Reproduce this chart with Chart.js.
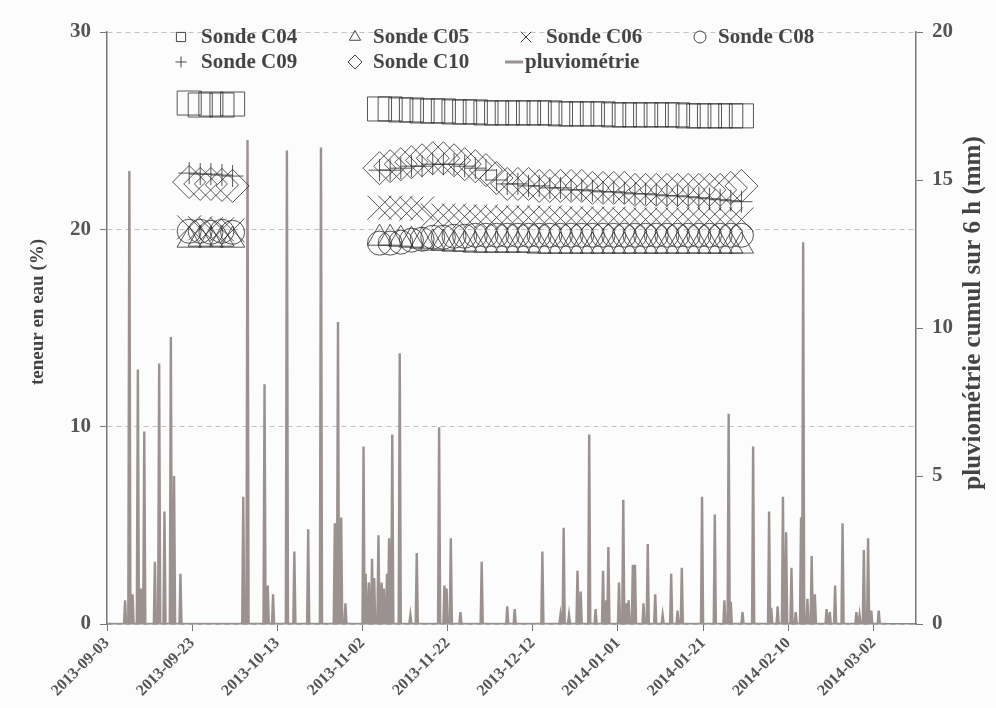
<!DOCTYPE html>
<html>
<head>
<meta charset="utf-8">
<script src="https://cdn.jsdelivr.net/npm/chart.js@4.4.1/dist/chart.umd.min.js"></script>
<style>
html,body{margin:0;padding:0;background:#fcfcfd;}
#wrap{width:996px;height:708px;position:relative;}
</style>
</head>
<body>
<div id="wrap"><canvas id="c"></canvas></div>
<script>
// ---------- data ----------
const startDate = '2013-09-03';            // x = 0 (days since this date)
const xTickStepDays = 20;
const leftAxisTitle = 'teneur en eau (%)';
const rightAxisTitle = 'pluviométrie cumul sur 6 h (mm)';

// rainfall (6 h cumulative, mm) : non-zero 6 h steps, day offsets since startDate
const rainDays = [4.25, 5.25, 6.0, 7.25, 8.0, 8.75, 11.25, 12.25, 13.5, 15.0, 15.75, 17.25,
  32.0, 33.0, 37.0, 37.75, 39.0, 42.25, 44.0, 47.25, 50.25, 53.5, 54.25, 55.0, 56.0,
  60.25, 60.75, 61.5, 62.25, 62.75, 63.75, 64.5, 65.0, 65.75, 66.25, 67.0, 68.75, 71.25, 72.75,
  78.0, 79.25, 79.75, 80.75, 83.0, 88.0,
  94.0, 95.75, 102.25, 106.5, 107.25, 108.5, 110.5, 111.25, 113.25, 114.75, 116.5, 117.25, 117.75,
  120.25, 121.25, 122.0, 122.5, 123.5, 124.0, 126.0, 127.0, 128.75, 130.5, 132.5, 134.0, 135.0,
  139.75, 142.75, 145.0, 146.0, 146.5, 149.25, 151.75, 155.5, 156.0, 157.5, 158.75, 159.5, 160.75, 161.75,
  163.0, 163.5, 164.5, 165.5, 166.25, 169.0, 169.75, 171.0, 172.75, 176.0, 176.75, 177.75, 178.75, 179.5, 181.25];
const rainMm = [0.8, 15.3, 1.0, 8.6, 1.2, 6.5, 2.1, 8.8, 3.8, 9.7, 5.0, 1.7,
  4.3, 16.35, 8.1, 1.3, 1.0, 16.0, 2.45, 3.2, 16.1, 3.4, 10.2, 3.6, 0.7,
  6.0, 1.7, 1.4, 2.2, 1.55, 3.0, 1.4, 1.2, 1.7, 2.9, 6.4, 9.15, 0.3, 2.4,
  6.65, 1.3, 1.2, 2.9, 0.4, 2.1,
  0.6, 0.5, 2.45, 0.3, 3.25, 0.3, 1.8, 1.1, 6.4, 0.5, 1.8, 0.8, 2.6,
  1.4, 4.2, 0.7, 0.8, 2.0, 2.0, 0.7, 2.7, 1.0, 0.3, 1.7, 0.45, 1.9,
  4.3, 3.7, 0.8, 7.1, 0.75, 0.4, 6.0, 3.8, 0.55, 0.6, 4.3, 3.1, 1.9, 0.4,
  3.6, 12.9, 0.85, 2.3, 1.0, 0.5, 0.4, 1.3, 3.4, 0.4, 0.3, 2.5, 2.9, 0.45, 0.45];
const rainLastDay = 183;

// soil probes (water content, %) : measurement days since startDate
const soilDays = [19.3, 21.9, 24.4, 27.0, 29.5,
  64, 66.5, 69, 71.5, 74, 76.5, 79, 81.5, 84, 86.5, 89, 91.5, 94, 96.5, 99, 101.5, 104, 106.5,
  109, 111.5, 114, 116.5, 119, 121.5, 124, 126.5, 129, 131.5, 134, 136.5, 139, 141.5, 144, 146.5, 149];
const sondeC04 = [26.4, 26.3, 26.35, 26.3, 26.35,
  26.1, 26.1, 26.05, 26.05, 26.0, 26.0, 26.0, 25.95, 25.95, 25.95, 25.9, 25.9, 25.9, 25.9, 25.9, 25.9, 25.9,
  25.85, 25.85, 25.85, 25.85, 25.85, 25.8, 25.8, 25.8, 25.8, 25.8, 25.8, 25.8, 25.75, 25.75, 25.75, 25.75, 25.75, 25.75];
const sondeC05 = [19.45, 19.5, 19.45, 19.5, 19.45,
  19.55, 19.55, 19.5, 19.45, 19.4, 19.3, 19.3, 19.25, 19.25, 19.2, 19.2, 19.2, 19.2, 19.2, 19.2,
  19.15, 19.15, 19.15, 19.15, 19.15, 19.15, 19.15, 19.15, 19.15, 19.15, 19.15, 19.15, 19.15, 19.15, 19.15,
  19.15, 19.15, 19.15, 19.15, 19.15];
const sondeC06 = [20.1, 20.05, 20.0, 20.0, 19.95,
  21.1, 21.1, 21.1, 21.05, 21.05, 20.7, 20.7, 20.7, 20.65, 20.65, 20.65, 20.6, 20.6, 20.6, 20.6, 20.6, 20.6,
  20.55, 20.55, 20.55, 20.55, 20.55, 20.55, 20.5, 20.5, 20.5, 20.5, 20.5, 20.5, 20.5, 20.5, 20.5, 20.5, 20.5, 20.5];
const sondeC08 = [19.9, 19.9, 19.85, 19.9, 19.85,
  19.3, 19.3, 19.35, 19.45, 19.5, 19.6, 19.6, 19.65, 19.65, 19.7, 19.7, 19.7, 19.7, 19.7, 19.7,
  19.7, 19.7, 19.7, 19.7, 19.7, 19.7, 19.7, 19.7, 19.7, 19.7, 19.7, 19.7, 19.7, 19.7, 19.7,
  19.7, 19.7, 19.7, 19.7, 19.7];
const sondeC09 = [22.85, 22.8, 22.8, 22.75, 22.7,
  23.0, 23.0, 23.1, 23.2, 23.2, 23.3, 23.3, 23.3, 23.2, 23.1, 23.0, 22.5, 22.3, 22.3, 22.2, 22.2, 22.1,
  22.1, 22.0, 22.0, 21.95, 21.9, 21.9, 21.85, 21.8, 21.8, 21.75, 21.7, 21.7, 21.65, 21.6, 21.55, 21.5, 21.45, 21.4];
const sondeC10 = [22.4, 22.3, 22.3, 22.25, 22.2,
  23.1, 23.2, 23.3, 23.4, 23.5, 23.6, 23.6, 23.5, 23.3, 23.2, 23.0, 22.6, 22.3, 22.3, 22.3, 22.2, 22.2,
  22.2, 22.2, 22.2, 22.1, 22.1, 22.1, 22.1, 22.0, 22.0, 22.0, 22.0, 22.0, 22.0, 22.0, 22.0, 22.0, 22.1, 22.2];

// ---------- build ----------
const day0 = Date.parse(startDate + 'T00:00:00Z');
const fmtDay = v => new Date(day0 + v * 86400000).toISOString().slice(0, 10);

const rainMap = new Map(rainDays.map((d, i) => [Math.round(d * 4), rainMm[i]]));
const rainPoints = [];
for (let k = 0; k <= rainLastDay * 4; k++) rainPoints.push({x: k / 4, y: rainMap.get(k) || 0});

const pts = arr => soilDays.map((d, i) => ({x: d, y: arr[i]}));
const MARK = 'rgba(45,45,45,0.8)';
const serif = '"Liberation Serif", "Times New Roman", serif';

function soil(label, arr, style, r, legR) {
  return {label, data: pts(arr), yAxisID: 'y', showLine: false, pointStyle: style,
    pointRadius: r, pointHoverRadius: r, pointBorderWidth: 1, pointBorderColor: MARK,
    pointBackgroundColor: 'rgba(0,0,0,0)', borderColor: MARK, backgroundColor: 'rgba(0,0,0,0)', legR};
}

const datasets = [
  soil('Sonde C04', sondeC04, 'rect', 17, 6.5),
  soil('Sonde C05', sondeC05, 'triangle', 14, 6.5),
  soil('Sonde C06', sondeC06, 'crossRot', 17, 7.5),
  soil('Sonde C08', sondeC08, 'circle', 12, 6),
  soil('Sonde C09', sondeC09, 'cross', 11, 5.5),
  soil('Sonde C10', sondeC10, 'rectRot', 16.5, 7),
  {label: 'pluviométrie', data: rainPoints, yAxisID: 'y1', borderColor: '#9b918e', borderWidth: 2.4,
   pointRadius: 0, tension: 0, fill: false}
];

const overlay = {
  id: 'overlay',
  afterDraw(chart) {
    const ctx = chart.ctx;
    ctx.save();
    // legend
    const slots = [[181, 37, 201], [355, 37, 373], [526, 37, 546], [700, 37, 718],
                   [181, 62, 201], [355, 62, 373], [514, 62, 525]];
    ctx.font = 'bold 21px ' + serif;
    ctx.textBaseline = 'middle';
    ctx.textAlign = 'left';
    chart.data.datasets.forEach((ds, i) => {
      const [sx, sy, tx] = slots[i];
      if (ds.showLine === false) {
        ctx.strokeStyle = '#444';
        ctx.fillStyle = 'rgba(0,0,0,0)';
        ctx.lineWidth = 1;
        Chart.helpers.drawPoint(ctx, {pointStyle: ds.pointStyle, radius: ds.legR, borderWidth: 1, rotation: 0}, sx, sy);
      } else {
        ctx.strokeStyle = ds.borderColor;
        ctx.lineWidth = 3;
        ctx.beginPath(); ctx.moveTo(sx - 9, sy); ctx.lineTo(sx + 9, sy); ctx.stroke();
      }
      ctx.fillStyle = '#444';
      ctx.fillText(ds.label, tx, sy + 1);
    });
    // axis titles (both read bottom-to-top)
    ctx.font = 'bold 19px ' + serif;
    ctx.fillStyle = '#444';
    ctx.textAlign = 'center';
    ctx.save(); ctx.translate(38, 312); ctx.rotate(-Math.PI / 2); ctx.fillText(leftAxisTitle, 0, 0); ctx.restore();
    ctx.font = 'bold 25px ' + serif;
    ctx.save(); ctx.translate(974, 313); ctx.rotate(-Math.PI / 2); ctx.fillText(rightAxisTitle, 0, 0); ctx.restore();
    ctx.restore();
  }
};

new Chart(document.getElementById('c'), {
  type: 'line',
  data: {datasets},
  plugins: [overlay],
  options: {
    responsive: true, maintainAspectRatio: false, animation: false,
    layout: {padding: {top: 32, left: 0, right: 0, bottom: 0}},
    plugins: {legend: {display: false}, tooltip: {enabled: false}},
    scales: {
      x: {
        type: 'linear', min: 0, max: 190,
        afterFit: s => { s.height = 84; },
        ticks: {stepSize: xTickStepDays, includeBounds: false, minRotation: 45, maxRotation: 45,
                callback: v => fmtDay(v), color: '#555', padding: 3,
                font: {family: serif, size: 16, weight: 'bold'}},
        grid: {drawOnChartArea: false, drawTicks: true, tickLength: 7, tickColor: '#777', tickWidth: 1},
        border: {display: true, color: '#888', width: 1.5}
      },
      y: {
        position: 'left', min: 0, max: 30,
        afterFit: s => { s.width = 107; },
        ticks: {stepSize: 10, color: '#555', padding: 9, font: {family: serif, size: 21, weight: 'bold'}},
        grid: {color: '#c6c1c1', lineWidth: 1, tickLength: 7, tickColor: '#777'},
        border: {display: true, color: '#777', width: 1.5, dash: [5, 4]}
      },
      y1: {
        position: 'right', min: 0, max: 20,
        afterFit: s => { s.width = 80; },
        ticks: {stepSize: 5, color: '#555', padding: 9, font: {family: serif, size: 21, weight: 'bold'}},
        grid: {drawOnChartArea: false, tickLength: 7, tickColor: '#777'},
        border: {display: true, color: '#777', width: 1.5}
      }
    }
  }
});
</script>
</body>
</html>
